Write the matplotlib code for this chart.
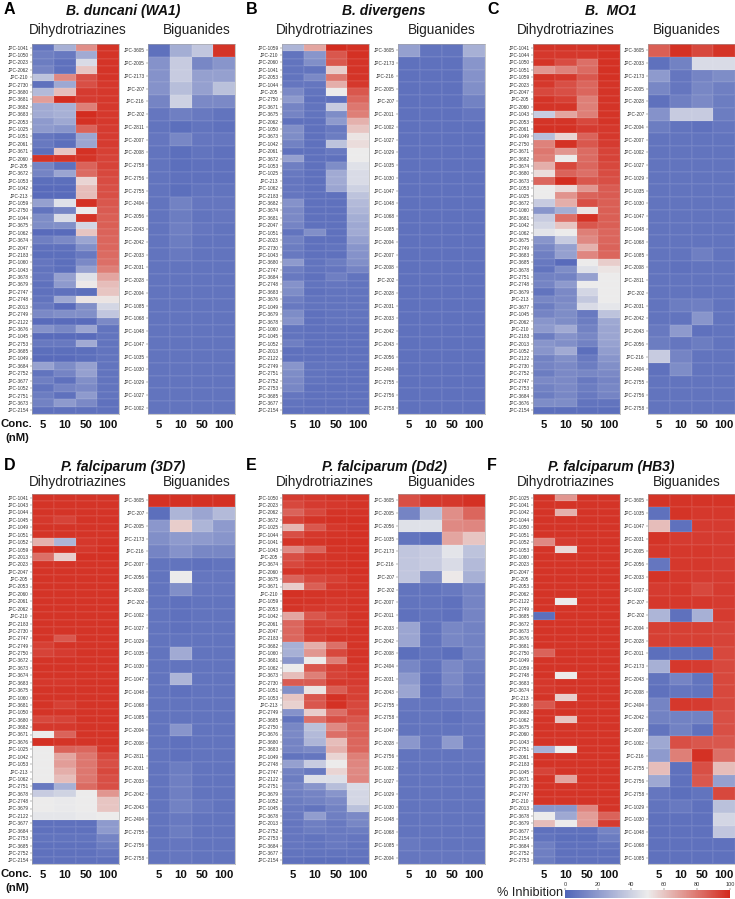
import numpy as np
import matplotlib
matplotlib.use("Agg")
import matplotlib.pyplot as plt
from matplotlib.colors import LinearSegmentedColormap, Normalize
from matplotlib.cm import ScalarMappable

plt.rcParams['font.family'] = ['Liberation Sans', 'DejaVu Sans']

conc = ["5", "10", "50", "100"]

# panel A
a_dht_ids = [1041,1050,2023,2062,210,2730,3680,3681,3682,3683,2053,1025,1051,2061,3671,2060,205,3672,1053,1042,213,1059,2750,1044,3675,
             1062,3674,2047,2183,1060,1043,3678,3679,2747,2748,2013,2749,2122,3676,1045,2753,3685,1049,3684,2752,3677,1052,2751,3673,2154]
a_dht_vals = [[6,28,74,97],[10,8,26,97],[9,5,44,97],[12,5,60,97],[35,75,90,97],[5,25,90,96],[32,62,95,96],[70,99,95,96],[26,28,78,96],[26,28,99,96],
              [20,25,98,96],[20,18,85,95],[7,5,24,95],[8,4,24,95],[4,60,98,94],[97,97,97,93],[12,5,85,93],[12,24,83,92],[4,4,56,91],[3,3,62,90],
              [3,3,62,90],[22,46,98,88],[6,12,50,87],[15,44,97,86],[15,16,42,86],[3,3,60,85],[10,14,24,84],[5,5,16,84],[4,4,8,83],[7,4,14,82],
              [6,4,22,78],[7,22,46,68],[5,20,51,62],[5,5,4,60],[6,25,52,52],[8,3,16,42],[14,16,16,36],[3,3,3,14],[17,13,24,6],[3,3,3,6],
              [8,8,26,6],[4,4,4,6],[3,3,4,6],[23,15,22,6],[6,12,22,6],[10,5,16,6],[6,12,14,6],[9,5,20,6],[11,20,14,5],[5,5,5,5]]
a_big_ids = [3605,2005,2173,207,216,202,2811,2007,2008,2758,2756,2755,2404,2056,2043,2042,2033,2031,2028,2004,1085,1068,1048,1047,1035,1030,1029,1027,1002]
a_big_vals = [[5,27,36,97],[17,38,13,18],[17,38,22,22],[17,33,22,34],[12,40,14,14],[7,10,8,6],[6,4,6,5],[7,13,7,7],[6,4,6,5],[6,4,5,5],
              [6,5,5,5],[6,4,6,6],[6,11,7,7],[6,9,6,7],[6,10,7,6],[6,9,6,6],[6,8,6,6],[6,6,6,6],[6,6,6,6],[6,6,6,6],
              [6,6,6,6],[6,6,6,6],[6,6,6,6],[6,6,6,6],[6,6,6,6],[6,6,6,6],[6,6,6,6],[6,6,6,6],[6,6,6,6]]

# panel B
b_dht_ids = [1059,210,2060,1041,2053,1044,205,2750,3671,3675,2062,1050,3673,1042,2061,3672,1053,1025,213,1062,2183,3682,3674,3681,2047,
             1051,2023,2730,1043,3680,2747,3684,2748,3683,3676,1049,3679,3678,1060,1045,1052,2013,2122,2749,2751,2752,2753,3685,3677,2154]
b_dht_vals = [[30,68,99,98],[6,18,88,98],[6,16,88,97],[6,6,58,97],[6,14,80,97],[7,7,66,96],[14,6,50,88],[20,5,5,84],[12,6,38,80],[12,6,15,78],
              [5,5,20,65],[16,5,8,60],[15,5,9,52],[11,5,35,54],[5,5,8,50],[22,5,5,50],[10,5,15,46],[8,5,26,44],[7,5,26,44],[7,5,24,40],
              [7,5,5,35],[17,5,5,32],[14,5,5,30],[14,5,5,27],[12,5,5,25],[6,16,5,26],[11,5,5,22],[9,5,6,18],[8,5,5,17],[20,6,9,16],
              [10,6,7,12],[8,5,10,6],[17,6,7,6],[15,5,6,6],[10,6,6,6],[8,6,6,6],[15,5,6,6],[17,5,6,6],[6,5,5,5],[6,5,5,5],
              [10,5,5,5],[5,5,5,5],[5,5,5,5],[18,6,6,5],[15,6,5,5],[14,6,5,5],[13,5,5,5],[7,5,5,5],[6,5,5,5],[5,5,5,5]]
b_big_ids = [3605,2173,216,2005,207,2011,1002,1027,1029,1035,1030,1047,1048,1068,1085,2004,2007,2008,202,2028,2031,2033,2042,2043,2056,2404,2755,2756,2758]
b_big_vals = [[22,6,6,28],[5,5,5,18],[5,5,5,17],[5,5,5,16],[5,5,5,11],[5,5,5,7],[5,5,5,5],[5,5,5,5],[5,5,5,5],[5,5,5,5],
              [5,5,5,5],[5,5,5,5],[5,5,5,5],[5,5,5,5],[5,5,5,5],[5,5,5,5],[5,5,5,5],[5,5,5,5],[5,5,5,5],[5,5,5,5],
              [5,5,5,5],[5,5,5,5],[5,5,5,5],[5,5,5,5],[5,5,5,5],[5,5,5,5],[5,5,5,5],[5,5,5,5],[5,5,5,5]]

# panel C
c_dht_ids = [1041,1044,1050,1051,1059,2023,2047,205,2060,1043,2053,2061,1049,2750,3671,3682,3674,3680,3673,1053,1025,3672,1060,3681,1042,
             1062,3675,2749,3683,3685,3678,2751,2748,3679,213,3677,1045,2062,210,2183,2013,1052,2122,2730,2752,2747,2753,3684,3676,2154]
c_dht_vals = [[97,97,97,98],[96,96,96,98],[97,91,82,98],[72,77,83,98],[97,96,88,98],[96,90,84,97],[92,90,84,97],[97,94,78,97],[97,97,78,97],[38,68,78,97],
              [97,97,92,97],[98,98,95,96],[33,56,85,96],[77,98,88,95],[80,72,83,93],[78,50,83,93],[66,92,84,92],[54,85,82,91],[84,99,88,90],[50,55,72,87],
              [50,73,85,87],[38,66,90,86],[18,27,52,86],[38,82,98,86],[42,60,88,86],[47,50,78,84],[18,38,75,84],[13,22,65,85],[10,22,76,84],[8,3,50,58],
              [6,15,46,52],[11,11,22,50],[12,20,50,50],[6,14,42,50],[13,14,37,50],[9,15,44,48],[12,15,8,35],[18,15,9,25],[20,26,11,24],[9,17,13,24],
              [18,16,11,23],[18,26,4,21],[11,16,8,18],[12,14,9,16],[9,14,13,14],[14,14,8,12],[11,14,9,13],[9,13,8,12],[15,15,6,6],[4,4,4,4]]
c_big_ids = [3605,2033,2173,2005,2028,207,2004,2007,1002,1027,1029,1035,1030,1047,1048,1068,1085,2008,2811,202,2031,2042,2043,2056,216,2404,2755,2756,2758]
c_big_vals = [[86,98,92,97],[5,11,44,44],[20,7,12,15],[13,7,13,10],[5,10,14,9],[17,38,38,9],[9,6,5,7],[6,6,6,6],[6,6,6,6],[6,6,6,6],
              [6,6,6,6],[6,6,6,6],[6,6,6,6],[6,6,6,6],[6,6,6,6],[6,6,6,6],[6,6,10,6],[6,5,6,6],[6,6,6,6],[6,6,6,6],
              [6,9,10,6],[6,6,18,6],[8,20,5,6],[9,7,9,6],[38,12,6,6],[5,15,6,6],[6,6,6,6],[6,6,6,6],[6,6,6,6]]

# panel D
d_dht_ids = [1041,1043,1044,1045,1049,1051,1052,1059,2013,2023,2047,205,2053,2060,2061,2062,210,2183,2730,2747,2749,2750,3672,3673,3674,
             3683,3675,1060,3681,1050,3680,3682,3671,3676,1025,1042,1053,213,1062,2751,3678,2748,3679,2122,3677,3684,2753,3685,2752,2154]
d_dht_vals = [[97,97,97,97],[97,97,97,97],[97,97,97,97],[96,93,97,97],[97,97,97,97],[97,97,97,97],[65,30,96,97],[98,98,96,98],[82,58,98,98],[97,97,97,97],
              [97,97,97,97],[97,97,97,97],[97,97,97,97],[97,97,97,97],[97,97,97,97],[97,97,97,97],[97,97,97,97],[97,97,97,97],[97,97,97,97],[97,88,97,97],
              [94,97,97,97],[93,95,97,97],[97,97,97,97],[97,97,97,97],[97,97,97,97],[96,96,97,97],[97,97,97,97],[97,97,97,97],[97,94,97,97],[97,97,97,97],
              [92,93,97,97],[96,96,97,97],[50,85,97,97],[98,97,97,97],[50,85,84,96],[50,68,80,92],[50,70,80,90],[50,66,80,92],[50,62,80,90],[8,28,83,90],
              [38,41,50,72],[50,49,50,60],[50,49,50,60],[48,48,49,50],[5,5,5,20],[5,5,5,20],[6,6,6,12],[5,5,5,9],[5,5,5,7],[5,5,5,5]]
d_big_ids = [3605,207,2005,2173,216,2007,2056,2028,202,1002,1027,1029,1035,1030,1047,1048,1068,1085,2004,2008,2811,2031,2033,2042,2043,2404,2755,2756,2758]
d_big_vals = [[98,98,98,98],[4,30,24,32],[19,58,30,20],[16,20,20,18],[12,17,13,13],[6,6,5,6],[6,50,7,7],[6,16,7,7],[6,5,6,6],[6,5,6,6],
              [6,5,6,6],[6,6,6,6],[6,26,6,6],[6,6,6,6],[6,30,6,6],[6,5,6,6],[6,6,6,6],[6,6,6,6],[6,18,6,6],[6,5,6,6],
              [6,5,6,6],[6,9,6,6],[6,10,6,6],[6,10,6,6],[6,11,8,6],[6,8,6,6],[6,9,6,6],[6,7,6,6],[6,7,6,6]]

# panel E
e_dht_ids = [1050,2023,2062,3672,1025,1044,1041,1043,205,3674,2060,3675,3671,210,1059,2053,1042,2061,2047,2183,3682,1060,3681,1062,3673,
             2730,1051,1053,213,2749,3685,2750,3676,3680,3683,1049,2748,2747,2122,2751,3679,1052,1045,3678,2013,2752,2753,3684,3677,2154]
e_dht_vals = [[95,96,97,97],[92,95,96,97],[85,92,97,97],[93,97,98,98],[64,88,96,98],[90,96,97,98],[97,97,98,98],[75,85,97,98],[90,96,97,98],[92,96,97,98],
              [97,97,97,98],[85,92,94,97],[58,86,96,97],[98,97,97,97],[97,97,96,97],[97,96,96,97],[68,88,94,97],[84,94,92,97],[84,95,96,97],[84,94,97,97],
              [28,66,82,97],[28,72,92,97],[18,50,78,97],[50,88,94,96],[62,78,93,96],[87,87,96,95],[16,52,86,94],[60,88,98,94],[57,88,98,92],[17,58,82,92],
              [6,82,90,88],[13,34,75,86],[14,32,82,86],[12,30,62,84],[12,14,65,84],[6,7,56,78],[22,38,50,76],[11,8,56,75],[9,45,45,76],[12,18,33,44],
              [10,12,18,42],[9,11,14,42],[8,6,11,34],[8,21,10,14],[7,10,8,13],[7,9,8,9],[7,6,8,7],[7,6,8,6],[6,6,6,6],[5,4,4,5]]
e_big_ids = [3605,2005,2056,1035,2173,216,207,202,2007,2011,2033,2042,2008,2404,2031,2043,2755,2758,1047,2028,2756,1002,1027,1029,1030,1048,1068,1085,2004]
e_big_vals = [[90,96,96,98],[12,34,74,84],[46,46,75,76],[6,4,68,60],[36,38,47,35],[36,38,44,32],[36,16,51,28],[6,6,8,12],[6,6,5,12],[5,6,5,12],
              [24,6,13,11],[24,6,13,11],[4,6,4,11],[13,6,14,9],[20,5,14,8],[24,5,12,8],[7,6,7,8],[6,6,5,7],[6,6,6,7],[19,7,20,7],
              [6,6,6,7],[6,6,6,6],[6,6,6,6],[6,6,6,6],[6,6,6,6],[6,6,6,6],[6,6,6,6],[8,6,6,6],[7,7,7,7]]

# panel F
f_dht_ids = [1025,1041,1042,1044,1050,1051,1052,1053,1060,2023,2047,205,2053,2062,2122,2749,3685,3672,3673,3676,3681,2750,1049,1059,2748,
             3683,3674,213,3680,3682,1062,3675,2060,1043,2751,2061,2183,1045,3671,2730,2747,210,2013,3678,3679,3677,2154,3684,2752,2753]
f_dht_vals = [[97,72,97,97],[97,97,97,97],[97,65,97,97],[97,97,97,97],[97,97,97,97],[97,97,97,97],[75,95,97,97],[97,55,97,97],[97,97,97,97],[97,97,97,97],
              [97,97,97,97],[97,97,97,97],[97,97,97,97],[97,97,97,97],[97,50,97,97],[97,97,97,97],[4,97,97,97],[97,97,97,97],[97,97,97,97],[97,97,97,97],
              [97,97,97,97],[85,97,97,97],[97,97,97,97],[97,97,97,97],[97,50,97,97],[96,97,97,97],[96,97,97,97],[97,58,97,97],[88,97,97,97],[97,97,97,97],
              [97,60,97,97],[97,97,97,97],[97,97,97,97],[97,97,97,97],[28,50,97,97],[97,97,97,97],[97,97,97,97],[93,97,97,97],[97,68,97,97],[97,97,97,97],
              [97,97,97,97],[97,97,97,97],[18,18,76,97],[50,25,70,85],[62,50,70,95],[5,5,5,12],[6,4,4,9],[10,5,5,6],[10,5,5,5],[9,5,5,5]]
f_big_ids = [3605,1035,1047,2031,2005,2056,2033,1027,207,202,2004,2028,2011,2173,2043,2008,2404,2042,2007,1002,216,2755,2756,2758,1029,1030,1048,1068,1085]
f_big_vals = [[97,97,97,97],[5,97,96,96],[62,5,95,95],[97,95,95,95],[96,96,96,95],[7,96,96,95],[97,96,95,95],[95,96,92,95],[96,96,96,95],[30,5,28,95],
              [94,94,94,93],[94,94,94,93],[4,4,4,92],[28,96,95,92],[6,12,6,92],[5,7,6,92],[12,96,95,92],[11,11,11,90],[6,11,5,90],[25,90,88,88],
              [20,78,98,82],[62,5,90,62],[25,5,88,22],[7,4,6,92],[6,8,5,34],[5,5,5,42],[5,5,5,36],[5,5,5,5],[5,5,5,5]]

W, H = 735, 899
cmap = LinearSegmentedColormap.from_list("inh", ["#5064b8", "#ececec", "#d3291c"])
norm = Normalize(0, 100)

fig = plt.figure(figsize=(W / 100, H / 100), dpi=100)


def px_axes(x0, y0, x1, y1):
    # pixel box measured from the top left of the picture
    return fig.add_axes([x0 / W, 1 - y1 / H, (x1 - x0) / W, (y1 - y0) / H])


def px_text(x, y, s, **kw):
    fig.text(x / W, 1 - y / H, s, va="center", **kw)


def heat(x0, y0, y1, ids, vals):
    ax = px_axes(x0, y0, x0 + 87, y1)
    ax.pcolormesh(np.array(vals), cmap=cmap, norm=norm, edgecolors=(1, 1, 1, 0.05), linewidth=0.3)
    ax.invert_yaxis()
    ax.set_yticks(np.arange(len(ids)) + 0.5)
    ax.set_yticklabels([f"JPC-{n}" for n in ids], fontsize=3.4, color="#333333")
    ax.set_xticks(np.arange(4) + 0.5)
    ax.set_xticklabels(conc, fontsize=8.2, fontweight="bold", color="#111111")
    ax.tick_params(axis="y", length=1.8, width=0.3, pad=0.6, color="#555555")
    ax.tick_params(axis="x", length=0, pad=4)
    for s in ax.spines.values():
        s.set_color("#a0a0a0")
        s.set_linewidth(0.4)
    return ax


# top row and bottom row share the same columns
columns = [(32, 148, 123, 78, 197), (282, 398, 384, 325, 442), (533, 648, 611, 566, 687)]
rows = [(44, 414, 11, 30), (494, 864, 467, 482)]
panels = [
    ("A", "B. duncani (WA1)", a_dht_ids, a_dht_vals, a_big_ids, a_big_vals, 0, 0),
    ("B", "B. divergens", b_dht_ids, b_dht_vals, b_big_ids, b_big_vals, 1, 0),
    ("C", "B.  MO1", c_dht_ids, c_dht_vals, c_big_ids, c_big_vals, 2, 0),
    ("D", "P. falciparum (3D7)", d_dht_ids, d_dht_vals, d_big_ids, d_big_vals, 0, 1),
    ("E", "P. falciparum (Dd2)", e_dht_ids, e_dht_vals, e_big_ids, e_big_vals, 1, 1),
    ("F", "P. falciparum (HB3)", f_dht_ids, f_dht_vals, f_big_ids, f_big_vals, 2, 1),
]
letter_x = [4, 246, 487]
for letter, title, dids, dvals, bids, bvals, c, r in panels:
    x_d, x_b, x_title, x_sd, x_sb = columns[c]
    y0, y1, y_title, y_sub = rows[r]
    heat(x_d, y0, y1, dids, dvals)
    heat(x_b, y0, y1, bids, bvals)
    px_text(letter_x[c], y_title - 2, letter, fontsize=11.5, fontweight="bold", color="black")
    px_text(x_title, y_title, title, fontsize=10, fontweight="bold", fontstyle="italic", ha="center", color="#111111")
    px_text(x_sd, y_sub, "Dihydrotriazines", fontsize=9.8, ha="center", color="#222222")
    px_text(x_sb, y_sub, "Biguanides", fontsize=9.8, ha="center", color="#222222")

for y in (424, 874):
    px_text(16, y + 0, "Conc.", fontsize=8.2, fontweight="bold", ha="center", color="#111111")
    px_text(17, y + 14, "(nM)", fontsize=8.2, fontweight="bold", ha="center", color="#111111")

# colour bar
cax = px_axes(565, 890, 730, 898)
cb = fig.colorbar(ScalarMappable(norm=norm, cmap=cmap), cax=cax, orientation="horizontal")
cb.set_ticks([0, 20, 40, 60, 80, 100])
cb.ax.xaxis.set_ticks_position("top")
cb.ax.tick_params(labelsize=4, length=1.5, width=0.3, pad=0.5, colors="#333333")
cb.outline.set_visible(False)
px_text(497, 893.5, "% Inhibition", fontsize=9.2, color="#222222")

fig.savefig("out.png", dpi=100)
